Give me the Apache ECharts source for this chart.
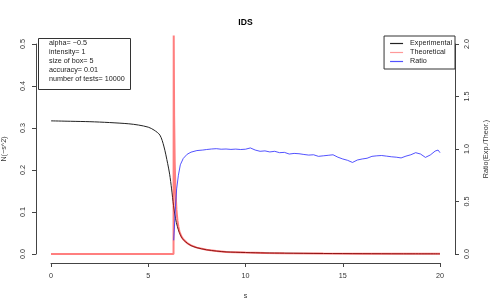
<!DOCTYPE html>
<html><head><meta charset="utf-8">
<script src="https://cdn.jsdelivr.net/npm/echarts@6/dist/echarts.min.js"></script>
<style>html,body{margin:0;padding:0;background:#fff}#c{width:491px;height:307px}</style>
</head><body><div id="c"></div>
<script>
const xTicks = [0, 5, 10, 15, 20];
const expS = [0,1,2,3,4,4.5,5,5.3,5.6,5.8,6.0,6.1,6.2,6.3,6.4,6.5,6.6,6.7,6.8,7.0,7.2,7.5,8,8.5,9,10,11,12,14,16,18,20];
const expV = [0.317,0.316,0.315,0.313,0.310,0.307,0.302,0.295,0.283,0.257,0.215,0.19,0.155,0.115,0.085,0.065,0.051,0.041,0.034,0.026,0.02,0.015,0.01,0.007,0.005,0.0035,0.0025,0.002,0.0012,0.0008,0.0005,0.0004];
const theoS = [0,6.3,6.31,6.33,6.36,6.4,6.45,6.5,6.55,6.6,6.7,6.8,7.0,7.2,7.5,8,8.5,9,10,11,12,14,16,18,20];
const theoV = [0,0,0.52,0.33,0.22,0.15,0.105,0.08,0.065,0.054,0.042,0.035,0.026,0.0205,0.0152,0.01,0.007,0.005,0.0035,0.0025,0.002,0.0012,0.0008,0.0005,0.0004];
const ratioS = [6.31,6.4,6.46,6.55,6.65,6.8,7.0,7.2,7.5,7.8,8.0,8.25,8.5,8.75,9.0,9.25,9.5,9.75,10.0,10.25,10.5,10.75,11.0,11.25,11.5,11.75,12.0,12.25,12.5,12.75,13.0,13.25,13.5,13.75,14.0,14.25,14.5,14.75,15.0,15.25,15.5,15.75,16.0,16.25,16.5,16.75,17.0,17.25,17.5,17.75,18.0,18.25,18.5,18.75,19.0,19.25,19.5,19.75,19.9,20.0];
const ratioV = [0.13,0.45,0.62,0.75,0.85,0.91,0.95,0.97,0.985,0.99,0.995,1.0,1.003,0.998,1.0,0.996,0.999,0.995,0.998,1.01,0.99,0.978,0.982,0.972,0.978,0.965,0.968,0.952,0.958,0.955,0.948,0.942,0.945,0.93,0.935,0.94,0.945,0.922,0.905,0.892,0.872,0.895,0.905,0.912,0.93,0.935,0.938,0.932,0.926,0.922,0.915,0.932,0.945,0.965,0.952,0.92,0.943,0.98,0.99,0.965];
const infoLines = ['alpha= \u22120.5','intensity= 1','size of box= 5','accuracy= 0.01','number of tests= 10000'];

const pair = (xs, ys) => xs.map((x, i) => [x, ys[i]]);
const F = 'Liberation Sans, Arial, sans-serif';
const AX = '#444';
const chart = echarts.init(document.getElementById('c'), null, {renderer: 'canvas'});
const axisCommon = {
  axisLine: {show: true, onZero: false, lineStyle: {color: AX, width: 1}},
  axisTick: {show: true, length: 4, lineStyle: {color: AX}},
  splitLine: {show: false},
  nameTextStyle: {fontFamily: F, fontSize: 7.2, color: '#333'}
};
chart.setOption({
  animation: false,
  title: {text: 'IDS', left: 'center', top: 13, textStyle: {fontFamily: F, fontSize: 8.6, fontWeight: 'bold', color: '#000'}},
  grid: {left: 51, right: 51, top: 44, bottom: 53, containLabel: false, outerBoundsMode: 'none'},
  legend: {
    right: 36, top: 36, orient: 'vertical', itemGap: 0, itemWidth: 13, itemHeight: 1.2, icon: 'rect',
    borderColor: '#333', borderWidth: 1, borderRadius: 0, padding: [3, 3, 3, 6],
    textStyle: {fontFamily: F, fontSize: 7.2, lineHeight: 9, color: '#222', padding: [0, 0, 0, 2]},
    data: ['Experimental', 'Theoretical', 'Ratio']
  },
  xAxis: Object.assign({}, axisCommon, {
    type: 'value', min: xTicks[0], max: xTicks[xTicks.length - 1], interval: 5, offset: 9, position: 'bottom',
    name: 's', nameLocation: 'middle', nameGap: 30,
    axisLabel: {fontFamily: F, fontSize: 7.2, color: '#333', margin: 10}
  }),
  yAxis: [
    Object.assign({}, axisCommon, {
      type: 'value', min: 0, max: 0.5, interval: 0.1, offset: 15, position: 'left',
      name: 'N(\u2212s^2)', nameLocation: 'middle', nameGap: 28,
      axisLabel: {fontFamily: F, fontSize: 7.2, color: '#333', rotate: 90, margin: 9, formatter: v => v.toFixed(1)}
    }),
    Object.assign({}, axisCommon, {
      type: 'value', min: 0, max: 2, interval: 0.5, offset: 15, position: 'right',
      name: 'Ratio(Exp./Theor.)', nameLocation: 'middle', nameGap: 28, nameRotate: 90,
      axisLabel: {fontFamily: F, fontSize: 7.2, color: '#333', rotate: 90, margin: 9, formatter: v => v.toFixed(1)}
    })
  ],
  series: [
    {name: 'Experimental', type: 'line', data: pair(expS, expV), showSymbol: false, symbol: 'none', smooth: 0.3, clip: false,
     lineStyle: {color: '#222', width: 1}, itemStyle: {color: '#222'}},
    {name: 'Theoretical', type: 'line', data: pair(theoS, theoV), showSymbol: false, symbol: 'none', clip: false,
     lineStyle: {color: 'rgba(255,0,0,0.5)', width: 2}, itemStyle: {color: 'rgba(255,0,0,0.4)'}},
    {name: 'Ratio', type: 'line', yAxisIndex: 1, data: pair(ratioS, ratioV), showSymbol: false, symbol: 'none', clip: false,
     lineStyle: {color: 'rgba(40,40,255,0.8)', width: 1}, itemStyle: {color: 'rgba(40,40,255,0.8)'}}
  ],
  graphic: [
    {type: 'rect', left: 36, top: 36, shape: {width: 92, height: 51}, style: {fill: 'none', stroke: '#333', lineWidth: 1}},
    {type: 'text', left: 49, top: 39, style: {text: infoLines.join('\n'), fontFamily: F, fontSize: 7.2, lineHeight: 9, fill: '#222'}}
  ]
});
</script></body></html>
